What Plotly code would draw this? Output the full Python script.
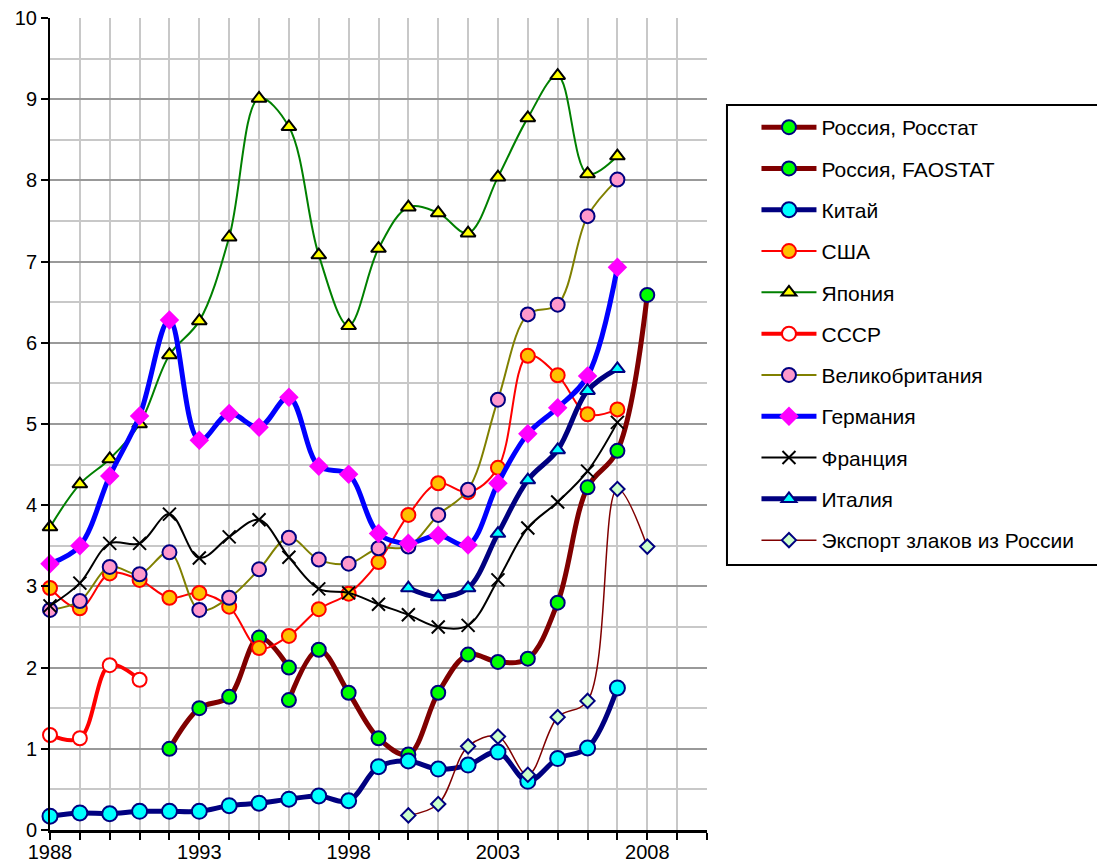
import plotly.graph_objects as go

# ---- data ----
years_all = list(range(1988, 2008))  # 1988..2007

russia_rosstat_x = [1992, 1993, 1994, 1995, 1996]
russia_rosstat_y = [1.00, 1.50, 1.64, 2.37, 2.00]

russia_fao_x = [1996, 1997, 1998, 1999, 2000, 2001, 2002, 2003, 2004, 2005, 2006, 2007, 2008]
russia_fao_y = [1.60, 2.22, 1.69, 1.13, 0.93, 1.69, 2.16, 2.07, 2.11, 2.80, 4.22, 4.67, 6.59]

china_y = [0.17, 0.21, 0.20, 0.23, 0.23, 0.23, 0.30, 0.33, 0.38, 0.42,
           0.36, 0.78, 0.85, 0.75, 0.80, 0.96, 0.60, 0.88, 1.01, 1.75]

usa_y = [2.98, 2.73, 3.16, 3.08, 2.86, 2.92, 2.75, 2.24, 2.39, 2.72,
         2.91, 3.30, 3.88, 4.27, 4.16, 4.46, 5.84, 5.60, 5.12, 5.18]

japan_y = [3.73, 4.26, 4.57, 5.00, 5.85, 6.27, 7.30, 9.01, 8.66, 7.08,
           6.21, 7.16, 7.67, 7.60, 7.35, 8.04, 8.77, 9.29, 8.08, 8.30]

ussr_x = [1988, 1989, 1990, 1991]
ussr_y = [1.17, 1.13, 2.03, 1.85]

uk_y = [2.71, 2.82, 3.24, 3.15, 3.42, 2.71, 2.86, 3.21, 3.60, 3.33,
        3.28, 3.47, 3.49, 3.88, 4.19, 5.30, 6.35, 6.47, 7.56, 8.01]

germany_y = [3.28, 3.50, 4.36, 5.10, 6.28, 4.80, 5.13, 4.96, 5.33, 4.48,
             4.38, 3.65, 3.53, 3.63, 3.51, 4.27, 4.88, 5.20, 5.59, 6.93]

france_y = [2.76, 3.04, 3.53, 3.53, 3.89, 3.35, 3.61, 3.82, 3.36, 2.97,
            2.92, 2.78, 2.65, 2.50, 2.52, 3.08, 3.72, 4.04, 4.42, 5.02]

italy_x = [2000, 2001, 2002, 2003, 2004, 2005, 2006, 2007]
italy_y = [2.98, 2.87, 2.98, 3.65, 4.31, 4.68, 5.41, 5.68]

export_x = [2000, 2001, 2002, 2003, 2004, 2005, 2006, 2007, 2008]
export_y = [0.18, 0.32, 1.03, 1.15, 0.68, 1.39, 1.59, 4.20, 3.49]

x_tick_vals = [1988, 1993, 1998, 2003, 2008]
x_tick_text = ["1988", "1993", "1998", "2003", "2008"]
y_tick_vals = list(range(0, 11))

FONT = "Arial, Liberation Sans, sans-serif"

fig = go.Figure()


def add(name, x, y, lcolor, lwidth, symbol, msize, mfill, mline, mlwidth=2):
    fig.add_trace(go.Scatter(
        x=x, y=y, name=name, mode="lines+markers",
        legendgroup=name,
        line=dict(color=lcolor, width=lwidth, shape="spline", smoothing=1),
        marker=dict(symbol=symbol, size=msize, color=mfill,
                    line=dict(color=mline, width=mlwidth)),
        cliponaxis=False,
    ))


add("Россия, Росстат", russia_rosstat_x, russia_rosstat_y, "#800000", 5, "circle", 14, "#00ff00", "#000080")
add("Россия, FAOSTAT", russia_fao_x, russia_fao_y, "#800000", 5, "circle", 14, "#00ff00", "#000080")
add("Китай", years_all, china_y, "#000080", 5, "circle", 15, "#00ffff", "#000080")
add("США", years_all, usa_y, "#ff0000", 2, "circle", 14, "#ffc000", "#ff0000")
add("Япония", years_all, japan_y, "#008000", 2, "triangle-up", 13, "#ffff00", "#000000")
add("СССР", ussr_x, ussr_y, "#ff0000", 4, "circle", 14, "#ffffff", "#ff0000")
add("Великобритания", years_all, uk_y, "#808000", 2, "circle", 14, "#ff99cc", "#000080")
add("Германия", years_all, germany_y, "#0000ff", 5, "diamond", 15, "#ff00ff", "#ff00ff", 0)
add("Франция", years_all, france_y, "#000000", 2, "x-thin", 13, "#000000", "#000000", 2)
add("Италия", italy_x, italy_y, "#000080", 5, "triangle-up", 13, "#00ffff", "#000080")
add("Экспорт злаков из России", export_x, export_y, "#800000", 1.5, "diamond", 11, "#ccffcc", "#000080")

# legend frame drawn as a shape (plot area spans page x 50..707 px, y 830..18 px)
fig.add_shape(type="rect", xref="paper", yref="paper",
              x0=1.0304, x1=1.598, y0=0.3264, y1=0.8929,
              line=dict(color="black", width=2), fillcolor="rgba(0,0,0,0)", layer="below")

fig.update_layout(
    width=1097, height=860,
    margin=dict(l=42, r=398, t=10, b=38, autoexpand=False),
    paper_bgcolor="white", plot_bgcolor="white",
    font=dict(family=FONT, size=20, color="black"),
    showlegend=True,
    legend=dict(
        x=1.0753, y=0.8904, xanchor="left", yanchor="top",
        bgcolor="rgba(0,0,0,0)", borderwidth=0,
        font=dict(family=FONT, size=21, color="black"),
        traceorder="grouped", tracegroupgap=11, itemwidth=55,
    ),
    xaxis=dict(
        range=[1988, 2010], tickmode="array", tickvals=x_tick_vals, ticktext=x_tick_text,
        showgrid=True, gridcolor="#c8c8c8", gridwidth=2, automargin=False,
        ticks="outside", ticklen=7, tickwidth=2, tickcolor="black",
        ticklabelstandoff=-5, ticklabeloverflow="allow",
        showline=True, linecolor="black", linewidth=3, zeroline=False,
        minor=dict(dtick=1, tick0=1988, showgrid=True, gridcolor="#c8c8c8", gridwidth=2,
                   ticks="outside", ticklen=7, tickwidth=2, tickcolor="black"),
        tickfont=dict(size=20),
    ),
    yaxis=dict(
        range=[0, 10], tickmode="array", tickvals=y_tick_vals,
        showgrid=True, gridcolor="#999999", gridwidth=2, automargin=False,
        ticklabeloverflow="allow",
        ticks="outside", ticklen=7, tickwidth=2, tickcolor="black",
        showline=True, linecolor="black", linewidth=2, zeroline=False,
        minor=dict(dtick=0.5, tick0=0, showgrid=True, gridcolor="#c8c8c8", gridwidth=2, ticks=""),
        tickfont=dict(size=20),
    ),
)

fig.write_html("out.html")
